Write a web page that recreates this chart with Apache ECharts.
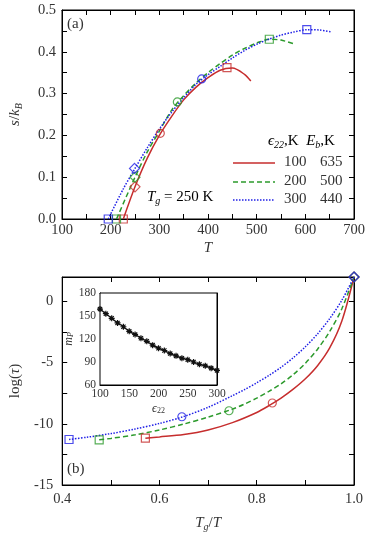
<!DOCTYPE html>
<html><head><meta charset="utf-8">
<script src="https://cdn.jsdelivr.net/npm/echarts@6/dist/echarts.min.js"></script>
<style>html,body{margin:0;padding:0;background:#fff}#c{width:374px;height:533px}</style>
</head><body><div id="c"></div>
<script>
// ---- Panel (a): s/kB vs T ----
const redA = [[226,0],[250,0.077],[275,0.145],[300,0.2],[325,0.245],[350,0.285],[375,0.315],[400,0.338],[425,0.356],[450,0.361],[475,0.346],[488,0.33]];
const greenA = [[212,0],[250,0.1],[275,0.16],[300,0.21],[325,0.26],[350,0.295],[375,0.325],[400,0.35],[425,0.372],[450,0.392],[475,0.408],[500,0.421],[525,0.43],[550,0.428],[577,0.419]];
const blueA = [[195,0],[225,0.07],[250,0.121],[275,0.17],[300,0.215],[325,0.255],[350,0.29],[375,0.322],[400,0.345],[425,0.365],[450,0.385],[475,0.403],[500,0.418],[525,0.43],[550,0.44],[575,0.447],[603,0.453],[630,0.452],[655,0.447]];
const redASq = [[226,0],[439,0.362]], redADi = [[250,0.077]], redACi = [[302,0.205]];
const greenASq = [[212,0],[526,0.43]], greenADi = [[250,0.1]], greenACi = [[337,0.28]];
const blueASq = [[195,0],[603,0.453]], blueADi = [[249,0.121]], blueACi = [[387,0.335]];
// ---- Panel (b): log(tau) vs Tg/T ----
const redB = [[0.571,-11.17],[0.6,-11.07],[0.65,-10.87],[0.7,-10.5],[0.75,-9.9],[0.8,-9.07],[0.825,-8.52],[0.85,-7.9],[0.875,-7.17],[0.9,-6.32],[0.925,-5.25],[0.95,-3.8],[0.975,-1.6],[1.0,2.0]];
const greenB = [[0.476,-11.31],[0.5,-11.19],[0.55,-10.9],[0.6,-10.5],[0.65,-10.02],[0.7,-9.45],[0.75,-8.8],[0.775,-8.38],[0.8,-7.9],[0.825,-7.35],[0.85,-6.73],[0.875,-5.98],[0.9,-5.05],[0.925,-3.9],[0.95,-2.45],[0.975,-0.6],[1.0,2.0]];
const blueB = [[0.414,-11.28],[0.45,-11.1],[0.5,-10.8],[0.55,-10.42],[0.6,-9.97],[0.65,-9.4],[0.7,-8.65],[0.75,-7.7],[0.775,-7.2],[0.8,-6.65],[0.825,-6.05],[0.85,-5.38],[0.875,-4.6],[0.9,-3.7],[0.925,-2.65],[0.95,-1.4],[0.975,0.1],[1.0,2.0]];
const redBSq = [[0.571,-11.17]], redBCi = [[0.832,-8.3]], redBDi = [[1.0,2.0]];
const greenBSq = [[0.476,-11.31]], greenBCi = [[0.743,-8.93]], greenBDi = [[1.0,2.0]];
const blueBSq = [[0.414,-11.28]], blueBCi = [[0.646,-9.42]], blueBDi = [[1.0,2.0]];
// ---- Inset: m_P vs eps22 ----
const epsInset = [100,110,120,130,140,150,160,170,180,190,200,210,220,230,240,250,260,270,280,290,300];
const mpInset = [159,153,147,141,136,130,126,121,117,112,108,105,101,98,95,93,90,87,85,82,79];
// legend table
const legEps = ['100','200','300'];
const legEb = ['635','500','440'];

const RED = '#c62d2d', GREEN = '#2c9a2c', BLUE = '#1f1fe6';
const FONT = 'Liberation Serif';
const TXT = '#333';
const sub = {fontSize: 10, fontFamily: FONT, color: TXT, padding: [7,0,0,0]};
const it = {fontStyle: 'italic', fontFamily: FONT, color: TXT, fontSize: 15};
const nr = {fontFamily: FONT, color: TXT, fontSize: 15};

function axisBase(extra) {
  return Object.assign({
    axisLine: {show: true, onZero: false, lineStyle: {color: '#000', width: 1}},
    axisTick: {show: true, inside: true, length: 5, lineStyle: {color: '#000'}},
    minorTick: {show: true, splitNumber: 2, length: 5, lineStyle: {color: '#000'}},
    splitLine: {show: false},
    axisLabel: {fontFamily: FONT, fontSize: 14.5, color: TXT},
  }, extra);
}
function mirror(ax, pos) {
  const a = axisBase(Object.assign({}, ax, {position: pos}));
  a.axisLabel = {show: false};
  return a;
}
const minorIn = (len) => ({show: true, splitNumber: 2, length: len, lineStyle: {color: '#000'}});
const tickIn = (len) => ({show: true, inside: true, length: len, lineStyle: {color: '#000'}});

const xA = {type: 'value', gridIndex: 0, min: 100, max: 700, interval: 100};
const yA = {type: 'value', gridIndex: 0, min: 0, max: 0.5, interval: 0.1};
const xB = {type: 'value', gridIndex: 1, min: 0.4, max: 1.0, interval: 0.2};
const yB = {type: 'value', gridIndex: 1, min: -15, max: 2, interval: 5};
const xI = {type: 'value', gridIndex: 2, min: 100, max: 300, interval: 50};
const yI = {type: 'value', gridIndex: 2, min: 60, max: 180, interval: 30};

const xAxes = [
  axisBase(Object.assign({}, xA, {position: 'bottom', axisLabel: {fontFamily: FONT, fontSize: 14.5, color: TXT, margin: 4},
    name: '{i|T}', nameLocation: 'middle', nameGap: 22, nameTextStyle: {rich: {i: it}}})),
  mirror(xA, 'top'),
  axisBase(Object.assign({}, xB, {position: 'bottom', axisLabel: {fontFamily: FONT, fontSize: 14.5, color: TXT, margin: 7, formatter: v => v.toFixed(1)},
    name: '{i|T}{s|g}{n|/}{i|T}', nameLocation: 'middle', nameGap: 30, nameTextStyle: {rich: {i: it, s: Object.assign({}, sub, {fontStyle:'italic'}), n: nr}}})),
  mirror(xB, 'top'),
  axisBase(Object.assign({}, xI, {position: 'bottom', axisTick: tickIn(4), minorTick: minorIn(3),
    axisLabel: {fontFamily: FONT, fontSize: 11.5, color: TXT, margin: 3},
    name: '{i|ϵ}{s|22}', nameLocation: 'middle', nameGap: 17, nameTextStyle: {rich: {i: Object.assign({}, it, {fontSize: 12}), s: Object.assign({}, sub, {fontSize: 8, padding: [5,0,0,0]})}}})),
  Object.assign(mirror(xI, 'top'), {axisTick: tickIn(4), minorTick: minorIn(3)}),
];
const yAxes = [
  axisBase(Object.assign({}, yA, {position: 'left', axisLabel: {fontFamily: FONT, fontSize: 14.5, color: TXT, margin: 6, formatter: v => v.toFixed(1)},
    name: '{i|s}{n|/}{i|k}{s|B}', nameLocation: 'middle', nameGap: 38, nameTextStyle: {rich: {i: it, n: nr, s: Object.assign({}, sub, {fontStyle: 'italic'})}}})),
  mirror(yA, 'right'),
  axisBase(Object.assign({}, yB, {position: 'left', axisLabel: {fontFamily: FONT, fontSize: 14.5, color: TXT, margin: 9, showMaxLabel: false},
    name: '{n|log(}{i|τ}{n|)}', nameLocation: 'middle', nameGap: 36, nameTextStyle: {rich: {i: it, n: nr}}})),
  mirror(yB, 'right'),
  axisBase(Object.assign({}, yI, {position: 'left', axisTick: tickIn(4), minorTick: minorIn(3),
    axisLabel: {fontFamily: FONT, fontSize: 11.5, color: TXT, margin: 4},
    name: '{i|m}{s|P}', nameLocation: 'middle', nameGap: 25, nameTextStyle: {rich: {i: Object.assign({}, it, {fontSize: 12}), s: Object.assign({}, sub, {fontSize: 8, fontStyle: 'italic', padding: [5,0,0,0]})}}})),
  Object.assign(mirror(yI, 'right'), {axisTick: tickIn(4), minorTick: minorIn(3)}),
];

function curve(data, color, type, xi, yi) {
  return {type: 'line', data, xAxisIndex: xi, yAxisIndex: yi, smooth: 0.3, showSymbol: false, symbol: 'none',
    lineStyle: {color, width: 1.5, type}, z: 2, silent: true, animation: false};
}
function marks(data, color, symbol, xi, yi, size) {
  return {type: 'scatter', data, xAxisIndex: xi, yAxisIndex: yi, symbol, symbolSize: size || 8,
    itemStyle: {color: 'rgba(255,255,255,0)', borderColor: color, borderWidth: 1.2}, z: 4, animation: false};
}
function anchor(xi, yi) {
  return {type: 'line', data: [], xAxisIndex: xi, yAxisIndex: yi, symbol: 'none', silent: true};
}
const series = [
  curve(redA, RED, 'solid', 0, 0), curve(greenA, GREEN, [5,3], 0, 0), curve(blueA, BLUE, [1.5,1.5], 0, 0),
  marks(redASq, RED, 'rect', 0, 0), marks(redADi, RED, 'diamond', 0, 0, 10), marks(redACi, RED, 'circle', 0, 0),
  marks(greenASq, GREEN, 'rect', 0, 0), marks(greenADi, GREEN, 'diamond', 0, 0, 10), marks(greenACi, GREEN, 'circle', 0, 0),
  marks(blueASq, BLUE, 'rect', 0, 0), marks(blueADi, BLUE, 'diamond', 0, 0, 10), marks(blueACi, BLUE, 'circle', 0, 0),
  curve(redB, RED, 'solid', 2, 2), curve(greenB, GREEN, [5,3], 2, 2), curve(blueB, BLUE, [1.5,1.5], 2, 2),
  marks(redBSq, RED, 'rect', 2, 2), marks(redBCi, RED, 'circle', 2, 2), marks(redBDi, RED, 'diamond', 2, 2, 10),
  marks(greenBSq, GREEN, 'rect', 2, 2), marks(greenBCi, GREEN, 'circle', 2, 2), marks(greenBDi, GREEN, 'diamond', 2, 2, 10),
  marks(blueBSq, BLUE, 'rect', 2, 2), marks(blueBCi, BLUE, 'circle', 2, 2), marks(blueBDi, BLUE, 'diamond', 2, 2, 10),
  {type: 'line', data: epsInset.map((e, i) => [e, mpInset[i]]), xAxisIndex: 4, yAxisIndex: 4, smooth: 0.3,
    lineStyle: {color: '#111', width: 1.3}, symbol: 'path://M0,5L10,5M5,0L5,10M1.5,1.5L8.5,8.5M8.5,1.5L1.5,8.5', symbolSize: 6,
    itemStyle: {color: '#111', borderColor: '#111', borderWidth: 1.2}, showSymbol: true, animation: false, z: 5},
  anchor(1, 1), anchor(3, 3), anchor(5, 5),
];

const legLineY = [163, 182, 200];
const legStyles = [[RED, null], [GREEN, [5,3]], [BLUE, [1.5,1.5]]];
const graphic = [
  {type: 'text', left: 67, top: 17, style: {text: '(a)', font: '15px "Liberation Serif"', fill: TXT}},
  {type: 'text', left: 67, top: 462, style: {text: '(b)', font: '15px "Liberation Serif"', fill: TXT}},
  {type: 'text', left: 147, top: 190, style: {text: '{i|T}{s|g}{n| = 250 K}', rich: {i: it, s: Object.assign({}, sub, {fontStyle: 'italic'}), n: nr}}},
  {type: 'text', left: 268, top: 134, style: {text: '{i|ϵ}{s|22}{n|,K  }{i|E}{s|b}{n|,K}', rich: {i: it, s: Object.assign({}, sub, {fontStyle: 'italic'}), n: nr}}},
];
legEps.forEach((t, k) => {
  const y = legLineY[k];
  graphic.push({type: 'line', shape: {x1: 233, y1: y, x2: 275, y2: y},
    style: {stroke: legStyles[k][0], lineWidth: 1.5, lineDash: legStyles[k][1]}});
  graphic.push({type: 'text', left: 284, top: y - 8, style: {text: t, font: '15px "Liberation Serif"', fill: TXT}});
  graphic.push({type: 'text', left: 320, top: y - 8, style: {text: legEb[k], font: '15px "Liberation Serif"', fill: TXT}});
});

const chart = echarts.init(document.getElementById('c'), null, {renderer: 'canvas'});
chart.setOption({
  backgroundColor: '#fff',
  animation: false,
  grid: [
    {left: 59, top: 10, width: 295, height: 209, show: true, borderColor: '#000', borderWidth: 1, backgroundColor: 'transparent'},
    {left: 59, top: 277, width: 295, height: 208, show: true, borderColor: '#000', borderWidth: 1, backgroundColor: 'transparent'},
    {left: 100, top: 293, width: 117, height: 92, show: true, backgroundColor: '#fff', borderColor: '#000', borderWidth: 1, z: 3},
  ],
  xAxis: xAxes,
  yAxis: yAxes,
  series,
  graphic,
});
</script></body></html>
